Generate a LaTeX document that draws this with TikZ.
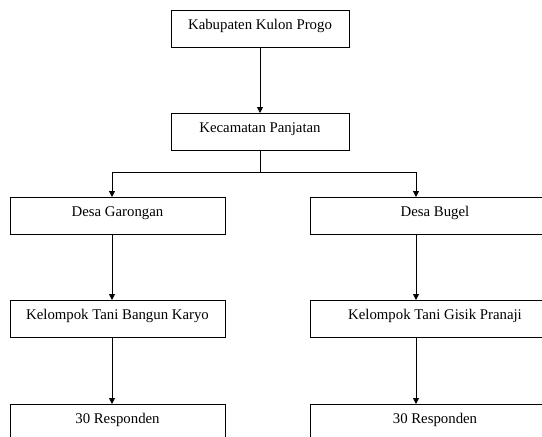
\documentclass[tikz,border=0pt]{standalone}
\usepackage{fontspec}
\setmainfont{Liberation Serif}
\usetikzlibrary{arrows.meta}
\tikzset{
  box/.style={draw, line width=0.8pt, minimum height=37pt, text height=10pt, text depth=8pt, inner sep=0pt, anchor=north, font=\fontsize{14.8}{17}\selectfont},
  arr/.style={line width=0.8pt, -{Triangle[width=6pt,length=6pt]}},
}
\begin{document}
\begin{tikzpicture}[x=1pt, y=-1pt]
\path[use as bounding box] (0,0) rectangle (542,437);
\clip (0,0) rectangle (542,437);
\node[box, minimum width=178pt] (kab) at (260,10){Kabupaten Kulon Progo};
\node[box, minimum width=178pt] (kec) at (260,113){Kecamatan Panjatan};
\node[box, minimum width=215pt] (desa0) at (117.5,197){Desa Garongan};
\node[box, minimum width=250pt] (desa1) at (435,197){Desa Bugel\hspace{35pt}};
\node[box, minimum width=215pt] (kt0) at (117.5,300){Kelompok Tani Bangun Karyo};
\node[box, minimum width=250pt] (kt1) at (435,300){Kelompok Tani Gisik Pranaji\hspace{35pt}};
\node[box, minimum width=215pt] (resp0) at (117.5,404){30 Responden};
\node[box, minimum width=250pt] (resp1) at (435,404){30 Responden\hspace{35pt}};
\coordinate (split) at (260,172);
\draw[arr] (kab) -- (kec);
\draw[line width=0.8pt] (kec) -- (split);
\draw[arr] (split) -| ([xshift=-5.5pt]desa0.north);
\draw[arr] (split) -| ([xshift=-19pt]desa1.north);
\draw[arr] ([xshift=-5.5pt]desa0.south) -- ([xshift=-5.5pt]kt0.north);
\draw[arr] ([xshift=-19pt]desa1.south) -- ([xshift=-19pt]kt1.north);
\draw[arr] ([xshift=-5.5pt]kt0.south) -- ([xshift=-5.5pt]resp0.north);
\draw[arr] ([xshift=-19pt]kt1.south) -- ([xshift=-19pt]resp1.north);
\end{tikzpicture}
\end{document}
